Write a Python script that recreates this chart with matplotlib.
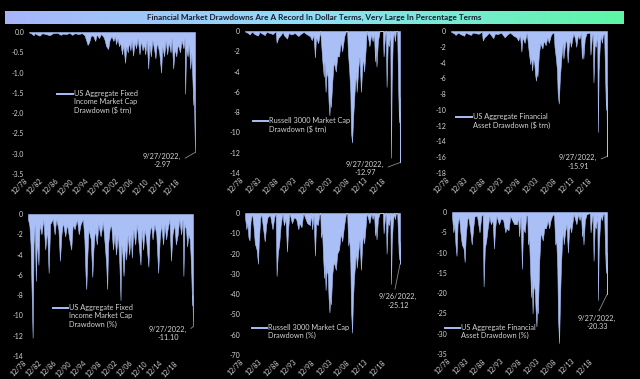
import matplotlib
matplotlib.use('Agg')
import matplotlib.pyplot as plt
import numpy as np
from matplotlib.lines import Line2D
from matplotlib.colors import LinearSegmentedColormap

W, H = 640, 379
FILL = '#a9bff5'
TXT = '#d4d4d4'
FONT = 'Lato'
plt.rcParams['font.family'] = [FONT, 'DejaVu Sans']

TITLE = "Financial Market Drawdowns Are A Record In Dollar Terms, Very Large In Percentage Terms"

# (decimal year, value) pairs
fi_usd = [
    (1978.92, -0.01), (1979.6, -0.04), (1980.1, -0.08), (1980.5, -0.03), (1981.2, -0.07),
    (1981.7, -0.09), (1982.4, -0.03), (1983.3, -0.05), (1984.4, -0.08), (1985.2, -0.03),
    (1986.4, -0.02), (1987.3, -0.07), (1987.8, -0.04), (1988.8, -0.05), (1989.6, -0.02),
    (1990.3, -0.07), (1991.0, -0.03), (1992.0, -0.05), (1992.9, -0.03), (1993.6, -0.08),
    (1994.0, -0.2), (1994.4, -0.32), (1994.8, -0.25), (1995.3, -0.08), (1995.9, -0.1),
    (1996.4, -0.22), (1996.8, -0.06), (1997.4, -0.15), (1997.9, -0.05), (1998.6, -0.12),
    (1998.9, -0.2), (1999.3, -0.35), (1999.8, -0.42), (2000.2, -0.2), (2000.7, -0.1),
    (2001.2, -0.22), (2001.6, -0.1), (2001.9, -0.3), (2002.3, -0.15), (2002.7, -0.35),
    (2003.0, -0.25), (2003.5, -0.55), (2003.8, -0.3), (2004.3, -0.76), (2004.6, -0.35),
    (2005.0, -0.5), (2005.3, -0.25), (2005.7, -0.45), (2006.0, -0.2), (2006.4, -0.58),
    (2006.8, -0.25), (2007.2, -0.4), (2007.6, -0.15), (2008.1, -0.55), (2008.5, -0.2),
    (2008.9, -0.45), (2009.3, -0.3), (2009.6, -0.55), (2010.0, -0.2), (2010.4, -0.9),
    (2010.7, -0.3), (2011.1, -0.6), (2011.5, -0.2), (2012.0, -0.45), (2012.3, -0.65),
    (2012.7, -0.25), (2013.3, -0.5), (2013.8, -1.0), (2014.1, -0.35), (2014.6, -0.6),
    (2015.0, -0.2), (2015.4, -0.55), (2015.8, -0.25), (2016.3, -0.5), (2016.6, -0.15),
    (2017.0, -0.9), (2017.4, -0.4), (2017.8, -0.6), (2018.2, -0.3), (2018.8, -0.5),
    (2019.2, -0.2), (2019.7, -0.4), (2020.0, -0.15), (2020.15, -1.52), (2020.4, -0.4),
    (2020.8, -0.6), (2021.1, -0.3), (2021.5, -0.9), (2021.8, -0.5), (2022.1, -1.25),
    (2022.3, -1.8), (2022.45, -1.4), (2022.6, -2.3), (2022.75, -2.97),
]

r3_usd = [
    (1978.92, -0.05), (1979.8, -0.2), (1980.2, -0.35), (1980.9, -0.05), (1981.6, -0.3),
    (1982.6, -0.45), (1983.0, -0.1), (1984.5, -0.4), (1985.0, -0.1), (1986.0, -0.2),
    (1986.7, -0.3), (1987.6, -0.05), (1987.85, -1.15), (1988.3, -0.7), (1989.0, -0.4),
    (1989.6, -0.1), (1989.9, -0.4), (1990.8, -0.75), (1991.3, -0.2), (1992.0, -0.35),
    (1993.0, -0.2), (1994.0, -0.5), (1994.6, -0.3), (1995.5, -0.1), (1996.5, -0.35),
    (1997.3, -0.5), (1997.8, -0.9), (1998.3, -0.4), (1998.7, -2.6), (1999.0, -0.6),
    (1999.6, -1.2), (2000.2, 0.0), (2000.5, -1.5), (2000.8, -3.0), (2001.2, -4.5),
    (2001.4, -3.0), (2001.7, -6.0), (2002.0, -4.0), (2002.3, -4.5), (2002.55, -7.0),
    (2002.8, -8.3), (2003.0, -6.5), (2003.2, -7.5), (2003.6, -5.0), (2004.0, -3.0),
    (2004.6, -4.0), (2005.0, -2.5), (2005.5, -2.5), (2006.0, -1.0), (2006.4, -2.0),
    (2007.0, -0.5), (2007.5, 0.0), (2007.8, 0.0), (2008.0, -2.0), (2008.4, -4.0),
    (2008.7, -6.0), (2008.9, -10.0), (2009.2, -11.0), (2009.5, -8.5), (2009.9, -6.0),
    (2010.3, -4.0), (2010.5, -6.0), (2011.0, -3.5), (2011.3, -2.5), (2011.7, -6.0),
    (2012.0, -4.0), (2012.3, -2.5), (2012.6, -4.0), (2013.0, -2.0), (2013.3, 0.0),
    (2013.8, -0.8), (2014.1, -1.5), (2014.6, -0.3), (2015.0, -1.0), (2015.4, -0.3),
    (2015.7, -3.0), (2015.9, -1.5), (2016.1, -3.5), (2016.5, -1.0), (2017.0, 0.0),
    (2017.9, 0.0), (2018.1, -2.5), (2018.5, -0.5), (2018.75, 0.0), (2018.95, -5.5),
    (2019.3, -1.0), (2019.6, -1.5), (2020.0, 0.0), (2020.2, -12.5), (2020.4, -5.0),
    (2020.7, -1.0), (2021.0, 0.0), (2021.3, -1.0), (2021.6, 0.0), (2021.95, 0.0),
    (2022.2, -5.0), (2022.45, -9.0), (2022.6, -6.5), (2022.75, -12.97),
]

fa_usd = [
    (1978.92, -0.1), (1979.8, -0.3), (1980.2, -0.5), (1980.9, -0.2), (1981.6, -0.4),
    (1982.6, -0.6), (1983.0, -0.2), (1984.5, -0.5), (1985.0, -0.2), (1986.0, -0.3),
    (1986.7, -0.35), (1987.6, -0.1), (1987.85, -1.2), (1988.3, -0.8), (1989.0, -0.5),
    (1989.6, -0.2), (1990.8, -0.9), (1991.3, -0.3), (1992.0, -0.4), (1993.0, -0.2),
    (1994.0, -0.8), (1994.6, -0.5), (1995.5, -0.2), (1996.5, -0.6), (1997.3, -0.8),
    (1997.8, -1.2), (1998.3, -0.5), (1998.7, -2.6), (1999.0, -0.8), (1999.6, -1.5),
    (2000.2, -0.2), (2000.5, -1.5), (2000.8, -2.8), (2001.2, -4.2), (2001.4, -3.0),
    (2001.7, -5.0), (2002.0, -3.5), (2002.3, -4.0), (2002.55, -5.5), (2002.8, -6.3),
    (2003.0, -5.0), (2003.2, -5.8), (2003.6, -3.0), (2004.0, -1.5), (2004.6, -2.2),
    (2005.0, -1.2), (2005.5, -1.8), (2006.0, -0.8), (2006.4, -1.5), (2007.0, -0.5),
    (2007.5, -0.2), (2007.8, -0.3), (2008.0, -2.0), (2008.4, -3.5), (2008.7, -5.0),
    (2008.9, -8.0), (2009.2, -9.2), (2009.5, -6.0), (2009.9, -3.5), (2010.3, -1.5),
    (2010.5, -3.5), (2011.0, -1.5), (2011.3, -1.0), (2011.7, -4.0), (2012.0, -2.0),
    (2012.3, -1.0), (2012.6, -2.0), (2013.0, -1.0), (2013.3, -0.3), (2013.8, -1.0),
    (2014.1, -2.0), (2014.6, -0.5), (2015.0, -1.0), (2015.4, -0.3), (2015.7, -3.5),
    (2015.9, -2.0), (2016.1, -3.5), (2016.5, -1.0), (2017.0, -0.3), (2017.9, -0.2),
    (2018.1, -3.0), (2018.5, -0.8), (2018.75, -0.3), (2018.95, -6.5), (2019.3, -1.5),
    (2019.6, -2.0), (2020.0, -0.3), (2020.2, -12.8), (2020.4, -5.0), (2020.7, -2.0),
    (2021.0, -0.5), (2021.3, -1.5), (2021.6, -0.5), (2021.95, -0.3), (2022.2, -5.5),
    (2022.45, -10.0), (2022.6, -7.0), (2022.75, -15.91),
]

fi_pct = [
    (1978.92, -0.5), (1979.3, -1.2), (1979.6, -3.0), (1979.9, -8.0), (1980.15, -12.2),
    (1980.4, -3.0), (1980.7, -1.0), (1981.0, -6.6), (1981.3, -2.5), (1981.7, -5.0),
    (1982.0, -1.0), (1982.5, -2.0), (1983.0, -0.5), (1983.5, -3.5), (1984.0, -1.5),
    (1984.4, -5.8), (1984.8, -1.0), (1985.5, -0.5), (1986.0, -2.0), (1986.4, -0.5),
    (1987.0, -1.5), (1987.4, -4.6), (1987.8, -2.0), (1988.2, -0.8), (1988.8, -2.2),
    (1989.3, -1.0), (1989.9, -2.5), (1990.4, -3.5), (1990.8, -1.0), (1991.3, -1.5),
    (1991.9, -0.5), (1992.4, -2.0), (1992.9, -1.0), (1993.5, -0.5), (1993.9, -2.5),
    (1994.2, -6.0), (1994.4, -7.4), (1994.7, -4.0), (1995.0, -1.5), (1995.6, -2.5),
    (1996.0, -6.2), (1996.3, -3.5), (1996.7, -1.5), (1997.2, -3.0), (1997.6, -1.0),
    (1998.2, -2.2), (1998.8, -0.8), (1999.3, -3.0), (1999.7, -5.0), (1999.95, -7.4),
    (2000.2, -3.0), (2000.6, -1.5), (2001.0, -1.0), (2001.5, -3.5), (2001.9, -2.0),
    (2002.3, -4.0), (2002.8, -2.0), (2003.2, -5.0), (2003.5, -8.5), (2003.7, -3.0),
    (2004.0, -4.0), (2004.3, -6.1), (2004.7, -3.0), (2005.0, -4.5), (2005.4, -2.0),
    (2005.8, -4.0), (2006.2, -2.0), (2006.5, -4.3), (2006.9, -1.5), (2007.4, -3.0),
    (2007.8, -1.0), (2008.2, -2.5), (2008.8, -5.0), (2009.1, -1.5), (2009.5, -3.5),
    (2009.9, -1.5), (2010.3, -2.5), (2010.9, -5.2), (2011.2, -2.0), (2011.6, -1.0),
    (2012.0, -2.5), (2012.5, -1.0), (2013.0, -2.0), (2013.5, -5.8), (2013.9, -2.5),
    (2014.3, -1.0), (2014.8, -3.0), (2015.2, -1.0), (2015.6, -2.5), (2016.0, -1.5),
    (2016.5, -0.5), (2016.9, -4.6), (2017.3, -2.0), (2017.8, -1.0), (2018.2, -3.0),
    (2018.7, -2.0), (2019.1, -0.5), (2019.6, -2.0), (2020.0, -0.5), (2020.2, -6.1),
    (2020.5, -1.0), (2020.9, -1.5), (2021.2, -3.2), (2021.5, -2.0), (2021.9, -2.5),
    (2022.1, -4.0), (2022.3, -6.0), (2022.5, -9.0), (2022.6, -8.0), (2022.75, -11.1),
]

r3_pct = [
    (1978.92, -2), (1979.3, -8), (1979.6, -5), (1979.9, -12), (1980.2, -13.5),
    (1980.5, -4), (1980.9, 0), (1981.3, -6), (1981.7, -15), (1982.2, -18),
    (1982.6, -25), (1982.8, -15), (1983.2, -3), (1983.5, 0), (1984.0, -7),
    (1984.5, -14), (1984.9, -6), (1985.3, -2), (1986.0, -1), (1986.7, -8),
    (1987.2, -2), (1987.6, 0), (1987.85, -31), (1988.2, -20), (1988.6, -15),
    (1989.0, -6), (1989.5, 0), (1989.9, -6), (1990.4, -3), (1990.8, -19),
    (1991.1, -8), (1991.5, 0), (1992.2, -5), (1992.8, -2), (1993.4, -3),
    (1994.0, -8), (1994.3, -5), (1994.9, -7), (1995.4, 0), (1996.5, -5),
    (1997.3, -6), (1997.6, 0), (1997.9, -8), (1998.3, -1), (1998.7, -21),
    (1999.0, -5), (1999.5, -6), (1999.9, -1), (2000.2, 0), (2000.4, -12),
    (2000.7, -8), (2001.0, -22), (2001.3, -32), (2001.5, -25), (2001.7, -38),
    (2002.0, -28), (2002.3, -30), (2002.55, -42), (2002.8, -49), (2003.0, -42),
    (2003.2, -45), (2003.6, -30), (2004.0, -24), (2004.6, -28), (2005.0, -20),
    (2005.5, -18), (2006.0, -10), (2006.4, -14), (2006.8, -8), (2007.2, -3),
    (2007.5, 0), (2007.8, 0), (2008.1, -16), (2008.4, -12), (2008.7, -25),
    (2008.9, -48), (2009.2, -59), (2009.4, -45), (2009.7, -33), (2010.0, -26),
    (2010.3, -18), (2010.5, -27), (2010.9, -20), (2011.3, -13), (2011.7, -28),
    (2012.0, -17), (2012.3, -10), (2012.6, -15), (2013.0, -7), (2013.3, 0),
    (2013.8, -3), (2014.1, -5), (2014.6, 0), (2015.0, -3), (2015.4, 0),
    (2015.7, -11), (2015.9, -6), (2016.1, -13), (2016.5, -3), (2017.0, 0),
    (2017.9, 0), (2018.1, -10), (2018.5, -2), (2018.75, 0), (2018.95, -20),
    (2019.3, -4), (2019.6, -6), (2020.0, 0), (2020.2, -35), (2020.4, -15),
    (2020.7, -5), (2021.0, 0), (2021.3, -3), (2021.6, 0), (2021.95, 0),
    (2022.2, -12), (2022.45, -23), (2022.6, -14), (2022.74, -25.12),
]

fa_pct = [
    (1978.92, -1), (1979.3, -5), (1979.6, -3), (1979.9, -8), (1980.2, -10.8),
    (1980.5, -3), (1980.9, -1), (1981.3, -5), (1981.7, -8), (1982.2, -9),
    (1982.5, -12.3), (1982.8, -6), (1983.2, -2), (1983.5, -1), (1984.0, -4),
    (1984.5, -8), (1984.9, -4), (1985.3, -1), (1986.0, -1), (1986.7, -5),
    (1987.2, -1), (1987.6, -0.5), (1987.85, -18.3), (1988.2, -9), (1988.6, -7),
    (1989.0, -4), (1989.5, -1), (1989.9, -3), (1990.4, -2), (1990.8, -9),
    (1991.1, -4), (1991.5, -1), (1992.2, -3), (1992.8, -1.5), (1993.4, -2),
    (1994.0, -5), (1994.3, -4), (1994.9, -4.5), (1995.4, -1), (1996.5, -3),
    (1997.3, -3), (1997.6, -1), (1997.9, -6), (1998.3, -1), (1998.7, -14),
    (1999.0, -4), (1999.5, -5), (1999.9, -1), (2000.2, -0.5), (2000.4, -8),
    (2000.7, -6), (2001.0, -14), (2001.3, -21), (2001.5, -16), (2001.7, -25),
    (2002.0, -18), (2002.3, -19), (2002.55, -24), (2002.8, -28.2), (2003.0, -23),
    (2003.2, -25), (2003.6, -12), (2004.0, -5), (2004.6, -7), (2005.0, -4),
    (2005.5, -4), (2006.0, -2), (2006.4, -4), (2006.8, -2), (2007.2, -1),
    (2007.5, -0.5), (2007.8, -1), (2008.1, -8), (2008.4, -7), (2008.7, -14),
    (2008.9, -26), (2009.2, -32.3), (2009.4, -24), (2009.7, -14), (2010.0, -8),
    (2010.3, -4), (2010.5, -8), (2010.9, -5), (2011.3, -3), (2011.7, -10),
    (2012.0, -5), (2012.3, -3), (2012.6, -5), (2013.0, -2.5), (2013.3, -0.5),
    (2013.8, -2), (2014.1, -3), (2014.6, -0.5), (2015.0, -2), (2015.4, -0.5),
    (2015.7, -6), (2015.9, -4), (2016.1, -8), (2016.5, -2), (2017.0, -0.5),
    (2017.9, -0.3), (2018.1, -5), (2018.5, -1.5), (2018.75, -0.5), (2018.95, -12),
    (2019.3, -3), (2019.6, -4), (2020.0, -0.5), (2020.2, -21.7), (2020.4, -9),
    (2020.7, -4), (2021.0, -0.5), (2021.3, -2), (2021.6, -0.5), (2021.95, -0.5),
    (2022.2, -9), (2022.45, -15), (2022.6, -10), (2022.75, -20.33),
]

legend_labels = [
    "US Aggregate Fixed\nIncome Market Cap\nDrawdown (\\$ trn)",
    "Russell 3000 Market Cap\nDrawdown (\\$ trn)",
    "US Aggregate Financial\nAsset Drawdown (\\$ trn)",
    "US Aggregate Fixed\nIncome Market Cap\nDrawdown (%)",
    "Russell 3000 Market Cap\nDrawdown (%)",
    "US Aggregate Financial\nAsset Drawdown (%)",
]
annot_labels = [
    "9/27/2022,\n-2.97", "9/27/2022,\n-12.97", "9/27/2022,\n-15.91",
    "9/27/2022,\n-11.10", "9/26/2022,\n-25.12", "9/27/2022,\n-20.33",
]

fig = plt.figure(figsize=(W / 100, H / 100), dpi=100, facecolor='black')


def px_rect(l, t, r, b):
    return [l / W, 1 - b / H, (r - l) / W, (b - t) / H]


panels = [
    dict(data=fi_usd, rect=(29, 32, 195, 174), ymin=-3.5, ystep=0.5, dec=1, xstep=4,
         leg=(57, 73, 94), ann=(162, 160.5), rel=(1.0, 0.5)),
    dict(data=r3_usd, rect=(245, 31, 400, 173), ymin=-14, ystep=2, dec=0, xstep=5,
         leg=(253, 268, 121), ann=(365, 168.5), rel=(1.0, 0.5)),
    dict(data=fa_usd, rect=(451, 31, 607, 173), ymin=-18, ystep=2, dec=0, xstep=5,
         leg=(456, 472, 117), ann=(578, 162), rel=(1.0, 0.6)),
    dict(data=fi_pct, rect=(28, 214, 193, 356), ymin=-14, ystep=2, dec=0, xstep=4,
         leg=(53, 68, 308), ann=(168, 333.5), rel=(1.0, 0.6)),
    dict(data=r3_pct, rect=(245, 213, 400, 355), ymin=-70, ystep=10, dec=0, xstep=5,
         leg=(252, 267, 328), ann=(398, 301), rel=(0.4, 1.0)),
    dict(data=fa_pct, rect=(452, 212, 607, 354), ymin=-35, ystep=5, dec=0, xstep=5,
         leg=(445, 460, 328), ann=(597, 322.5), rel=(0.5, 1.0)),
]

for i, p in enumerate(panels):
    ax = fig.add_axes(px_rect(*p['rect']))
    ax.set_facecolor('black')
    xs = [d for d, v in p['data']]
    ys = [v for d, v in p['data']]
    ax.fill_between(xs, ys, 0, color=FILL, linewidth=0.4, edgecolor=FILL)
    ax.set_xlim(xs[0], xs[-1])
    ax.set_ylim(p['ymin'], 0)
    for s in ax.spines.values():
        s.set_visible(False)
    n = int(round(-p['ymin'] / p['ystep']))
    yt = [p['ymin'] + k * p['ystep'] for k in range(n + 1)]
    ax.set_yticks(yt)
    ax.set_yticklabels([f"{(v if abs(v) > 1e-9 else 0.0):.{p['dec']}f}" for v in yt])
    years = list(range(1978, 2019, p['xstep']))
    ax.set_xticks([y + 0.92 for y in years])
    ax.set_xticklabels([f"12/{y % 100:02d}" for y in years], rotation=45, ha='right')
    ax.tick_params(length=0, colors=TXT, labelsize=5, pad=3.5)
    ax.tick_params(axis='x', pad=2.5)
    # legend entry
    x0, x1, yl = p['leg']
    fig.add_artist(Line2D([x0 / W, x1 / W], [1 - yl / H] * 2, color=FILL, lw=1.4,
                          transform=fig.transFigure))
    fig.text((x1 + 1) / W, 1 - (yl - 4) / H, legend_labels[i], ha='left', va='top',
             color=TXT, fontsize=5.3, linespacing=1.2)
    # annotation of the last value
    ax_, ay_ = p['ann']
    ax.annotate(annot_labels[i], xy=(xs[-1], ys[-1]), xycoords='data',
                xytext=(ax_, H - ay_), textcoords='figure pixels',
                ha='center', va='center', color=TXT, fontsize=5.3, linespacing=1.2,
                arrowprops=dict(arrowstyle='-', color='#8a8a8a', lw=0.6,
                                shrinkA=1, shrinkB=0, relpos=p['rel']),
                annotation_clip=False)

# title bar with gradient
tax = fig.add_axes(px_rect(5, 11, 624, 24))
cmap = LinearSegmentedColormap.from_list('bar', ['#a8b4fb', '#8fdff5', '#5cf7a6'])
tax.imshow(np.linspace(0, 1, 256).reshape(1, -1), cmap=cmap, aspect='auto',
           extent=[0, 1, 0, 1])
tax.set_xlim(0, 1)
tax.set_ylim(0, 1)
tax.axis('off')
tax.text(0.5, 0.5, TITLE, ha='center', va='center', fontsize=5.9, fontweight='bold',
         color='#1a1a30')

fig.savefig('out.png', dpi=100, facecolor='black')
